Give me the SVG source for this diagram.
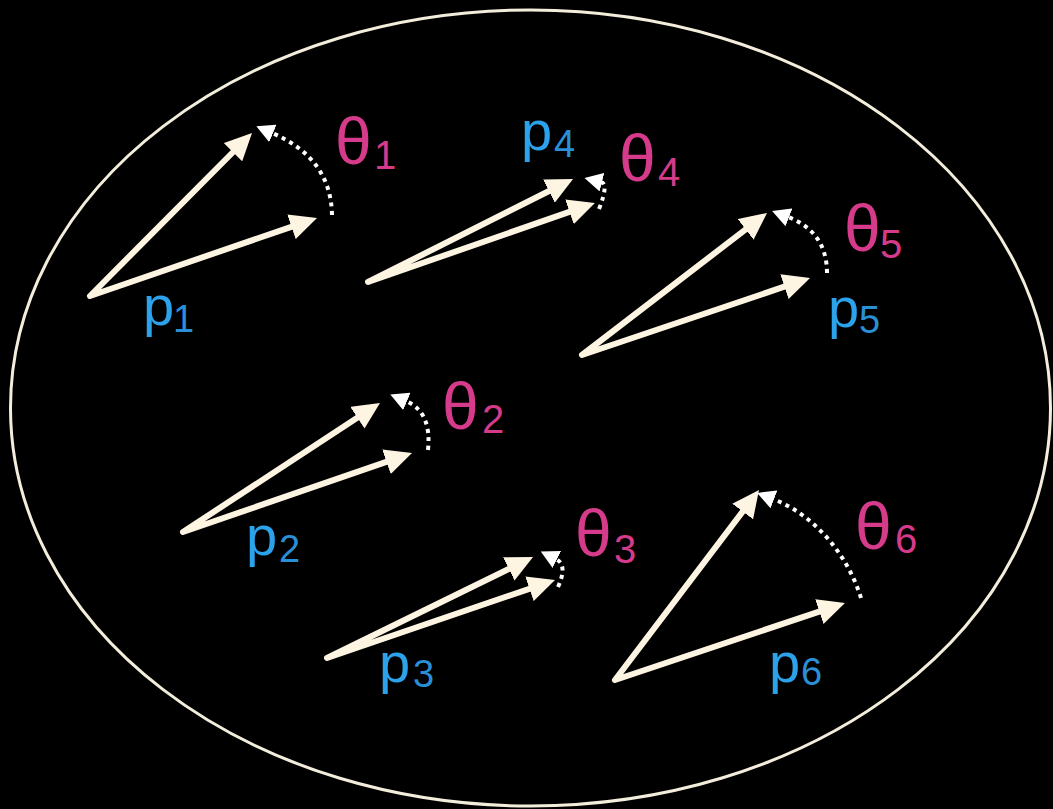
<svg xmlns="http://www.w3.org/2000/svg" width="1053" height="809" viewBox="0 0 1053 809">
<defs>
<marker id="head" markerUnits="userSpaceOnUse" markerWidth="27" markerHeight="26" refX="3" refY="13" orient="auto-start-reverse" viewBox="0 0 27 26"><path d="M0,0 L27,13 L0,26 z" fill="#fdf5e2"/></marker>
<marker id="whead" markerUnits="userSpaceOnUse" markerWidth="18" markerHeight="19" refX="1" refY="9.5" orient="auto" viewBox="0 0 18 19"><path d="M0,0 L18,9.5 L0,19 z" fill="#ffffff"/></marker>
<style>
.vec{fill:none;stroke:#fdf5e2;stroke-width:6;stroke-linejoin:round;marker-start:url(#head);marker-end:url(#head)}
.rot{fill:none;stroke:#ffffff;stroke-width:4;stroke-dasharray:4 4.5;marker-end:url(#whead)}
.th{font-family:"Liberation Sans",Arial,sans-serif;font-size:66px;fill:#d63b8b}
.ths{font-size:40px}
.p{font-family:"Liberation Sans",Arial,sans-serif;font-size:56px;fill:#2ba2ea}
.ps{font-size:38px;fill:#2a8fd6}
</style>
</defs>
<rect x="0" y="0" width="1053" height="809" fill="#000000"/>
<ellipse id="boundary" cx="530.5" cy="408" rx="520" ry="398" fill="none" stroke="#f3eedb" stroke-width="3"/>
<g id="connectors">
<path class="vec" d="M235.1,150 L90,296 L294.3,225.8"/>
<path class="vec" d="M551.6,189.8 L368,282 L572.3,210.9"/>
<path class="vec" d="M748,227.6 L582,355 L787.3,285.7"/>
<path class="vec" d="M359.9,416.1 L183,532 L389.3,460.8"/>
<path class="vec" d="M511.5,567.6 L327,658 L532.3,587.8"/>
<path class="vec" d="M744.5,509.1 L615,680 L822.2,610.6"/>
<path class="rot" d="M332,215 Q331,158 272,133"/>
<path class="rot" d="M599,209 Q609,184 601,182"/>
<path class="rot" d="M827,273 Q827,232 788,217"/>
<path class="rot" d="M428,450 Q432,412 406,401"/>
<path class="rot" d="M558,587 Q568,565 556,559"/>
<path class="rot" d="M861,598 C847.6,555 815,515.2 773,499"/>
</g>
<g id="node1">
<text class="th" x="335" y="164">θ<tspan class="ths" x="374" y="169">1</tspan></text>
<text class="p" x="143" y="325">p<tspan class="ps" x="173" y="332">1</tspan></text>
</g>
<g id="node2">
<text class="th" x="442" y="429">θ<tspan class="ths" x="482" y="433">2</tspan></text>
<text class="p" x="246" y="555">p<tspan class="ps" x="279" y="562">2</tspan></text>
</g>
<g id="node3">
<text class="th" x="575" y="556">θ<tspan class="ths" x="614" y="563">3</tspan></text>
<text class="p" x="379" y="682">p<tspan class="ps" x="413" y="687">3</tspan></text>
</g>
<g id="node4">
<text class="th" x="619" y="181">θ<tspan class="ths" x="658" y="186">4</tspan></text>
<text class="p" x="521" y="150">p<tspan class="ps" x="554" y="157">4</tspan></text>
</g>
<g id="node5">
<text class="th" x="844" y="251">θ<tspan class="ths" x="880" y="258">5</tspan></text>
<text class="p" x="828" y="327">p<tspan class="ps" x="859" y="333">5</tspan></text>
</g>
<g id="node6">
<text class="th" x="855" y="549">θ<tspan class="ths" x="895" y="553">6</tspan></text>
<text class="p" x="769" y="682">p<tspan class="ps" x="801" y="685">6</tspan></text>
</g>
</svg>
